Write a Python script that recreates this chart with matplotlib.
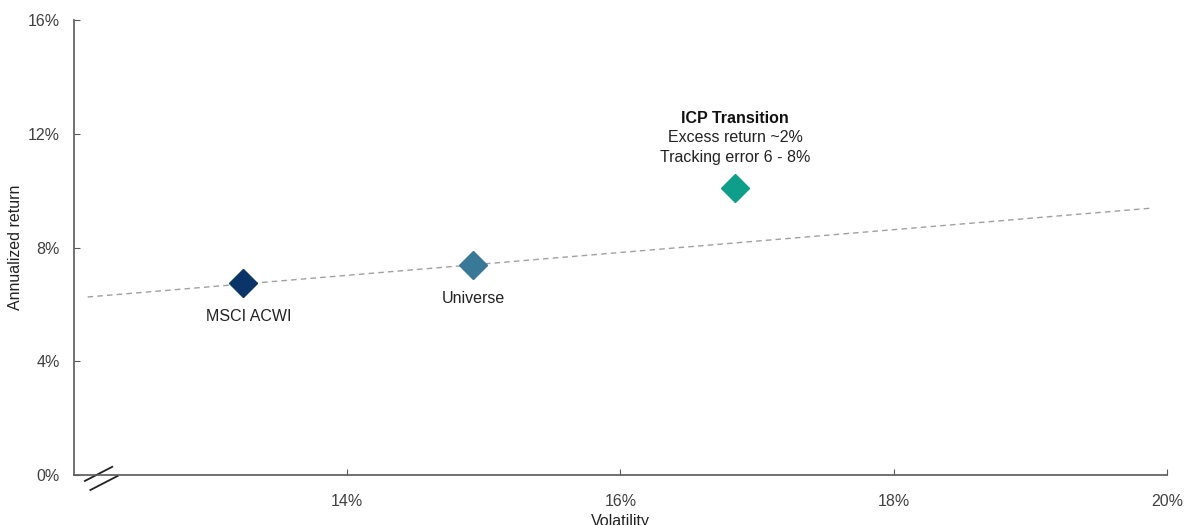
import matplotlib.pyplot as plt
from matplotlib.ticker import FuncFormatter

plt.rcParams['font.family'] = ['Liberation Sans', 'DejaVu Sans']

# Portfolio points (volatility %, annualized return %)
names = ["MSCI ACWI", "Universe", "ICP Transition"]
volatility = [13.24, 14.92, 16.84]
returns = [6.75, 7.38, 10.09]
colors = ["#0b3468", "#3a7898", "#0f9e8a"]
icp_notes = ["Excess return ~2%", "Tracking error 6 - 8%"]

# Trend line through the benchmark points
trend_x = [12.1, 19.9]
trend_y = [6.26, 9.39]

x_ticks = [14, 16, 18, 20]
y_ticks = [0, 4, 8, 12, 16]

fig = plt.figure(figsize=(11.89, 5.25), dpi=100)
ax = fig.add_axes([0.0622, 0.0952, 0.9193, 0.8667])

ax.plot(trend_x, trend_y, linestyle=(0, (4, 3)), color="#a0a0a0", linewidth=1, zorder=1)

for n, x, y, c in zip(names, volatility, returns, colors):
    ax.plot(x, y, marker="D", markersize=14, color=c, linestyle="none", zorder=3)

fs = 11.5
ax.annotate(names[0], (volatility[0], returns[0]), xytext=(4, -24), textcoords="offset points",
            ha="center", va="center", fontsize=fs, color="#222222")
ax.annotate(names[1], (volatility[1], returns[1]), xytext=(0, -24), textcoords="offset points",
            ha="center", va="center", fontsize=fs, color="#222222")
ax.annotate(names[2], (volatility[2], returns[2]), xytext=(0, 50), textcoords="offset points",
            ha="center", va="center", fontsize=fs, fontweight="bold", color="#111111")
ax.annotate(icp_notes[0], (volatility[2], returns[2]), xytext=(0, 36.5), textcoords="offset points",
            ha="center", va="center", fontsize=fs, color="#222222")
ax.annotate(icp_notes[1], (volatility[2], returns[2]), xytext=(0, 22), textcoords="offset points",
            ha="center", va="center", fontsize=fs, color="#222222")

ax.set_xlim(12, 20)
ax.set_ylim(0, 16)
ax.set_xticks(x_ticks)
ax.set_yticks(y_ticks)
pct = FuncFormatter(lambda v, p: f"{v:.0f}%")
ax.xaxis.set_major_formatter(pct)
ax.yaxis.set_major_formatter(pct)
ax.tick_params(direction="in", length=4, colors="#595959", labelcolor="#404040", labelsize=fs)
ax.tick_params(axis="x", pad=14)
ax.tick_params(axis="y", pad=10)

for s in ["top", "right"]:
    ax.spines[s].set_visible(False)
for s in ["left", "bottom"]:
    ax.spines[s].set_color("#595959")
    ax.spines[s].set_linewidth(1.2)

ax.set_xlabel("Volatility", fontsize=fs, color="#222222")
ax.set_ylabel("Annualized return", fontsize=fs, color="#222222")
ax.xaxis.set_label_coords(0.5, -0.085)
ax.yaxis.set_label_coords(-0.047, 0.5)

# axis break marks
for dx, dy in [(0.0, 0.0), (0.005, -0.02)]:
    ax.plot([0.010 + dx, 0.035 + dx], [-0.013 + dy, 0.018 + dy], transform=ax.transAxes,
            color="#222222", linewidth=1.3, clip_on=False)

fig.savefig("out.png", dpi=100)
